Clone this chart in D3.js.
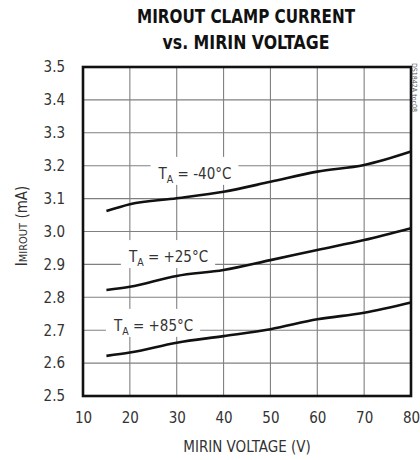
<!DOCTYPE html>
<html><head><meta charset="utf-8">
<script src="https://cdn.jsdelivr.net/npm/d3@7"></script>
<style>
body{margin:0;background:#fff;}
svg{display:block;}
text{font-family:"DejaVu Sans Condensed","Liberation Sans Narrow",sans-serif;}
</style></head><body>
<svg id="c" width="420" height="460"></svg>
<script>
const voltages = [15, 20, 30, 40, 50, 60, 70, 80];
const currentM40 = [3.062, 3.083, 3.101, 3.121, 3.151, 3.182, 3.202, 3.243];
const currentP25 = [2.822, 2.832, 2.865, 2.883, 2.913, 2.944, 2.974, 3.010];
const currentP85 = [2.622, 2.632, 2.662, 2.682, 2.703, 2.733, 2.753, 2.784];
const seriesLabels = ["-40°C", "+25°C", "+85°C"];
const labelAnchors = [[33.9, 3.160], [28.25, 2.907], [25.05, 2.698]]; // label centre x, baseline y (data units)
const xTicks = [10, 20, 30, 40, 50, 60, 70, 80];
const yTicks = [2.5, 2.6, 2.7, 2.8, 2.9, 3.0, 3.1, 3.2, 3.3, 3.4, 3.5];

const svg = d3.select("#c");
const L = 83, R = 411, T = 67, B = 396;
const x = d3.scaleLinear().domain([10, 80]).range([L, R]);
const y = d3.scaleLinear().domain([2.5, 3.5]).range([B, T]);

// grid
const grid = svg.append("g").attr("stroke", "#808080").attr("stroke-width", 1.1);
xTicks.slice(1, -1).forEach(v => grid.append("line").attr("x1", x(v)).attr("x2", x(v)).attr("y1", T).attr("y2", B));
yTicks.slice(1, -1).forEach(v => grid.append("line").attr("x1", L).attr("x2", R).attr("y1", y(v)).attr("y2", y(v)));

// axes (labels only)
const xAxis = d3.axisBottom(x).tickValues(xTicks).tickSize(0).tickPadding(16).tickFormat(d3.format("d"));
const gx = svg.append("g").attr("transform", `translate(0,${B})`).call(xAxis);
gx.select(".domain").remove();
gx.selectAll("text").attr("font-size", 15).attr("fill", "#333")
  .style("font-family", '"DejaVu Sans Condensed",sans-serif');

const yAxis = d3.axisLeft(y).tickValues(yTicks).tickSize(0).tickPadding(18).tickFormat(d3.format(".1f"));
const gy = svg.append("g").attr("transform", `translate(${L},0)`).call(yAxis);
gy.select(".domain").remove();
gy.selectAll("text").attr("font-size", 15).attr("fill", "#333")
  .style("font-family", '"DejaVu Sans Condensed",sans-serif');

// curves
const line = d3.line().x(d => x(d[0])).y(d => y(d[1])).curve(d3.curveMonotoneX);
[currentM40, currentP25, currentP85].forEach(s => {
  svg.append("path").datum(voltages.map((v, i) => [v, s[i]]))
    .attr("d", line).attr("fill", "none").attr("stroke", "#111").attr("stroke-width", 2.6);
});

// labels with white boxes
seriesLabels.forEach((lab, i) => {
  const g = svg.append("g");
  const rect = g.append("rect").attr("fill", "#fff");
  const by = y(labelAnchors[i][1]);
  const t = g.append("text").attr("x", x(labelAnchors[i][0])).attr("y", by)
    .attr("text-anchor", "middle").attr("font-size", 15).attr("fill", "#333");
  t.append("tspan").text("T");
  t.append("tspan").attr("font-size", 10.5).attr("dy", 4).text("A");
  t.append("tspan").attr("dy", -4).text(" = " + lab);
  const bb = t.node().getBBox();
  rect.attr("x", bb.x - 7).attr("y", by - 22).attr("width", bb.width + 14).attr("height", 28);
});

// frame
svg.append("rect").attr("x", L).attr("y", T).attr("width", R - L).attr("height", B - T)
  .attr("fill", "none").attr("stroke", "#111").attr("stroke-width", 2.6);

// titles
svg.append("text").attr("x", 246).attr("y", 23).attr("text-anchor", "middle")
  .attr("font-size", 20).attr("font-weight", "bold").attr("fill", "#111")
  .attr("textLength", 218).attr("lengthAdjust", "spacingAndGlyphs").text("MIROUT CLAMP CURRENT");
svg.append("text").attr("x", 246).attr("y", 49).attr("text-anchor", "middle")
  .attr("font-size", 20).attr("font-weight", "bold").attr("fill", "#111")
  .attr("textLength", 167).attr("lengthAdjust", "spacingAndGlyphs").text("vs. MIRIN VOLTAGE");

svg.append("text").attr("x", 247).attr("y", 452).attr("text-anchor", "middle")
  .attr("font-size", 15).attr("fill", "#333").text("MIRIN VOLTAGE (V)");

const yt = svg.append("text").attr("transform", `translate(27,226) rotate(-90)`)
  .attr("text-anchor", "middle").attr("font-size", 15).attr("fill", "#333");
yt.append("tspan").text("I");
yt.append("tspan").attr("font-size", 11).text("MIROUT");
yt.append("tspan").text(" (mA)");

svg.append("text").attr("transform", `translate(412,63) rotate(90)`)
  .attr("font-size", 7).attr("fill", "#555").text("DS1842A toc08");
</script>
</body></html>
